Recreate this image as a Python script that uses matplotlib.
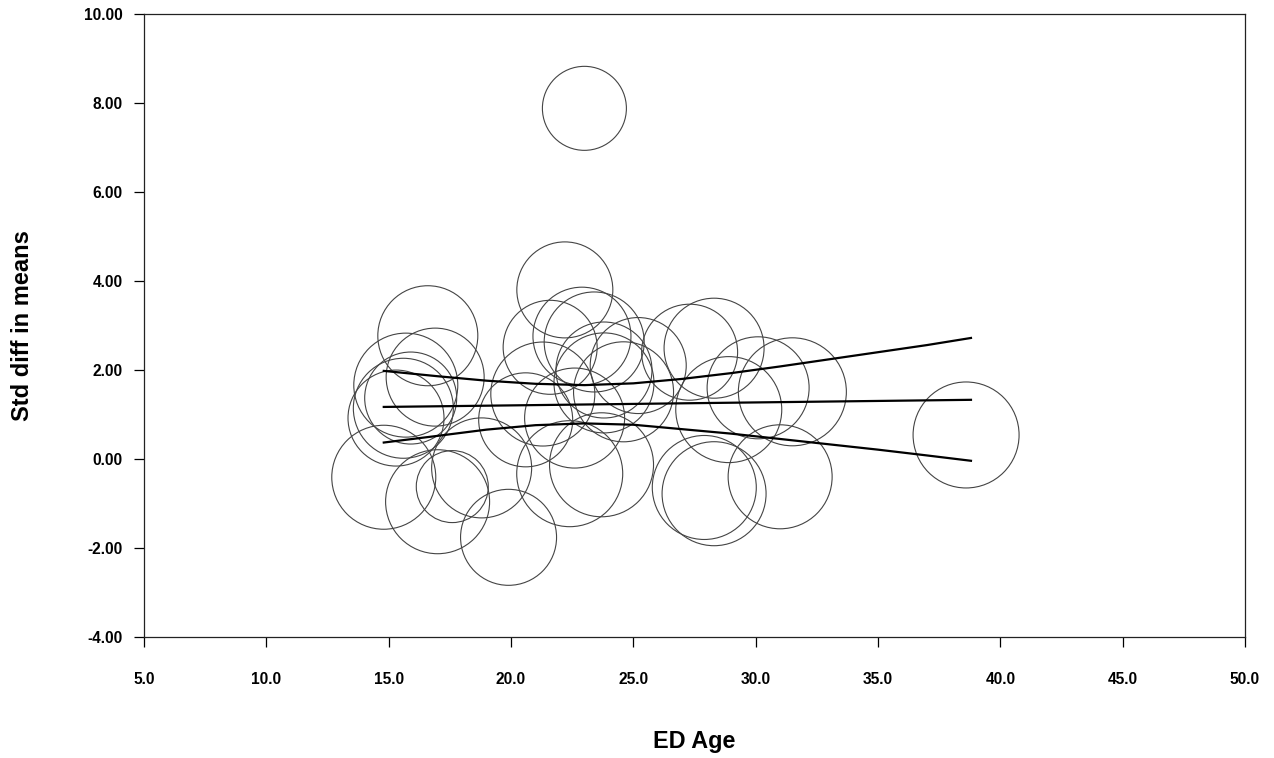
import matplotlib
matplotlib.use('Agg')
import matplotlib.pyplot as plt
import numpy as np

# study points: ED age, std diff in means, weight (drawn as circle radius)
age = [23.0, 22.2, 16.6, 15.7, 16.9, 15.3, 15.6, 15.9, 14.8, 17.0,
       19.9, 18.8, 17.6, 21.6, 22.9, 23.4, 23.8, 21.3, 23.8, 24.6,
       20.6, 22.6, 25.2, 22.4, 23.7, 27.3, 28.3, 28.9, 30.1, 31.5,
       27.9, 28.3, 31.0, 38.6]
smd = [7.88, 3.80, 2.77, 1.66, 1.84, 0.92, 1.14, 1.37, -0.41, -0.96,
       -1.76, -0.20, -0.62, 2.51, 2.76, 2.63, 2.00, 1.46, 1.71, 1.51,
       0.88, 0.92, 2.10, -0.33, -0.13, 2.40, 2.49, 1.11, 1.60, 1.51,
       -0.64, -0.78, -0.40, 0.54]
weight = [42, 48, 50, 52, 49, 48, 50, 46, 52, 52,
          48, 50, 36, 47, 49, 50, 48, 52, 50, 50,
          47, 50, 48, 53, 52, 48, 50, 53, 51, 54,
          52, 52, 52, 53]

# regression line and 95% limits
fit_x = [14.8, 38.8]
fit_y = [1.17, 1.33]
ci_x = [14.8, 17, 19, 21, 23, 25, 27, 29, 31, 33, 35, 37, 38.8]
ci_up = [1.98, 1.86, 1.76, 1.69, 1.66, 1.70, 1.80, 1.93, 2.08, 2.24, 2.40, 2.56, 2.72]
ci_lo = [0.37, 0.52, 0.66, 0.76, 0.80, 0.77, 0.67, 0.57, 0.45, 0.33, 0.21, 0.08, -0.04]

x_ticks = [5, 10, 15, 20, 25, 30, 35, 40, 45, 50]
y_ticks = [-4, -2, 0, 2, 4, 6, 8, 10]

plt.rcParams['font.family'] = ['Liberation Sans', 'DejaVu Sans']

dpi = 100
fig = plt.figure(figsize=(12.74, 7.58), dpi=dpi)
ax = fig.add_axes([144 / 1274, 1 - 637 / 758, 1101 / 1274, 623 / 758])

# radius in px -> marker area in points^2
sizes = [(2 * w * 72 / dpi) ** 2 for w in weight]
ax.scatter(age, smd, s=sizes, facecolors='none', edgecolors='#444444', linewidths=0.8, zorder=2)

ax.plot(fit_x, fit_y, color='black', linewidth=1.6, zorder=3)
ax.plot(ci_x, ci_up, color='black', linewidth=1.6, zorder=3)
ax.plot(ci_x, ci_lo, color='black', linewidth=1.6, zorder=3)

ax.set_xlim(5, 50)
ax.set_ylim(-4, 10)
ax.set_xticks(x_ticks)
ax.set_yticks(y_ticks)
ax.set_xticklabels(['%.1f' % v for v in x_ticks])
ax.set_yticklabels(['%.2f' % v for v in y_ticks])

ax.tick_params(axis='x', direction='out', length=7.5, width=0.9, pad=18, labelsize=11.2)
ax.tick_params(axis='y', direction='out', length=7.5, width=0.9, pad=8, labelsize=11.2)
for lab in ax.get_xticklabels() + ax.get_yticklabels():
    lab.set_fontweight('bold')
for sp in ax.spines.values():
    sp.set_linewidth(0.9)
    sp.set_color('#222222')

ax.set_xlabel('ED Age', fontsize=16.8, fontweight='bold')
ax.set_ylabel('Std diff in means', fontsize=17, fontweight='bold')
ax.xaxis.set_label_coords(0.5, (636 - 729) / 623)
ax.yaxis.set_label_coords((34 - 144) / 1101, 0.5)

fig.savefig('out.png', dpi=dpi)
